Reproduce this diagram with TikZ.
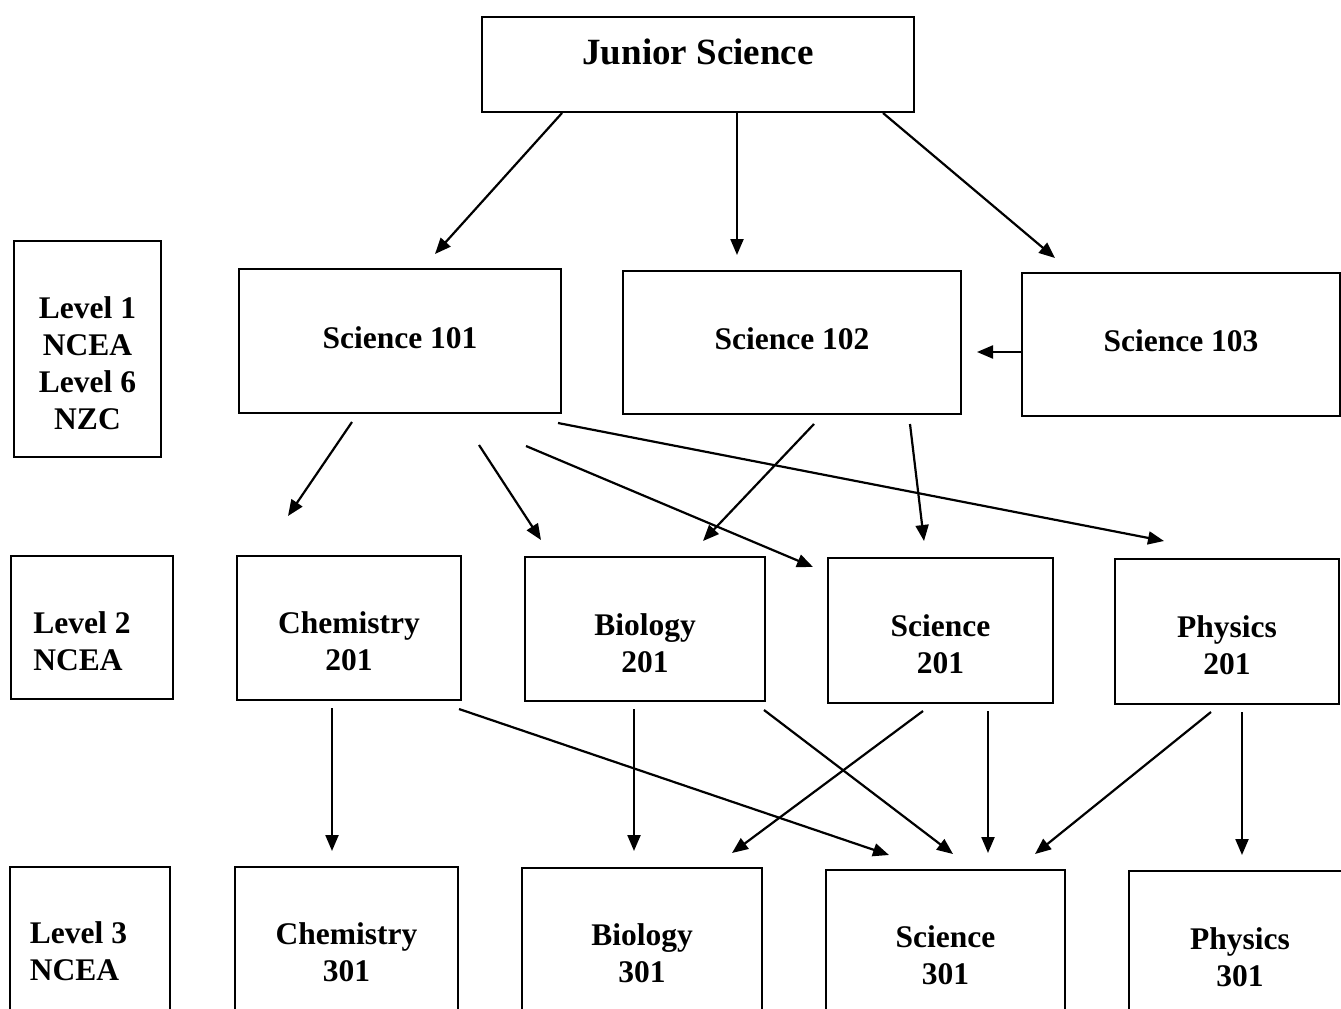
\documentclass[tikz,border=0pt]{standalone}
\usepackage{fontspec}
\setmainfont{Liberation Serif}
\usetikzlibrary{arrows.meta,calc}
\tikzset{
  box/.style={draw=black, line width=2.6pt, rectangle, inner sep=0pt, outer sep=0pt, fill=white},
  txt/.style={font=\bfseries\fontsize{31.5}{37}\selectfont, align=center, inner sep=0pt, text=black},
  txtl/.style={font=\bfseries\fontsize{31.5}{37}\selectfont, align=left, inner sep=0pt, text=black},
  bigtxt/.style={font=\bfseries\fontsize{37}{42}\selectfont, inner sep=0pt, text=black},
  arr/.style={line width=2.2pt, -{Triangle[length=16pt,width=13pt]}}
}
\begin{document}
\begin{tikzpicture}[x=1pt,y=-1pt]
\useasboundingbox (0,0) rectangle (1341,1009);
\fill[white] (0,0) rectangle (1341,1009);
\clip (0,0) rectangle (1341,1009);

% top
\node[box, minimum width=432pt, minimum height=95pt,
  label={[bigtxt,yshift=12.5pt]center:Junior Science}] (js) at (698,64.5) {};

% level 1 row
\node[box, minimum width=147pt, minimum height=216pt,
  label={[txt,yshift=-14pt]center:{Level 1\\NCEA\\Level 6\\NZC}}] (l1) at (87.5,349) {};
\node[box, minimum width=322pt, minimum height=144pt,
  label={[txt,yshift=3pt]center:Science 101}] (s101) at (400,341) {};
\node[box, minimum width=338pt, minimum height=143pt,
  label={[txt,yshift=3.5pt]center:Science 102}] (s102) at (792,342.5) {};
\node[box, minimum width=318pt, minimum height=143pt,
  label={[txt,yshift=3.5pt]center:Science 103}] (s103) at (1181,344.5) {};

% level 2 row
\node[box, minimum width=162pt, minimum height=143pt,
  label={[txtl,xshift=-10pt,yshift=-13.5pt]center:{Level 2\\NCEA}}] (l2) at (92,627.5) {};
\node[box, minimum width=224pt, minimum height=144pt,
  label={[txt,yshift=-13.5pt]center:{Chemistry\\201}}] (c201) at (349,628) {};
\node[box, minimum width=240pt, minimum height=144pt,
  label={[txt,yshift=-14pt]center:{Biology\\201}}] (b201) at (645,629) {};
\node[box, minimum width=225pt, minimum height=145pt,
  label={[txt,yshift=-14pt]center:{Science\\201}}] (sc201) at (940.5,630.5) {};
\node[box, minimum width=224pt, minimum height=145pt,
  label={[txt,yshift=-14pt]center:{Physics\\201}}] (p201) at (1227,631.5) {};

% level 3 row
\node[box, minimum width=160pt, minimum height=144pt,
  label={[txtl,xshift=-11.5pt,yshift=-12.5pt]center:{Level 3\\NCEA}}] (l3) at (90,939) {};
\node[box, minimum width=223pt, minimum height=144pt,
  label={[txt,yshift=-13.5pt]center:{Chemistry\\301}}] (c301) at (346.5,939) {};
\node[box, minimum width=240pt, minimum height=144pt,
  label={[txt,yshift=-13.5pt]center:{Biology\\301}}] (b301) at (642,940) {};
\node[box, minimum width=239pt, minimum height=144pt,
  label={[txt,yshift=-13.5pt]center:{Science\\301}}] (sc301) at (945.5,942) {};
\node[box, minimum width=231pt, minimum height=144pt,
  label={[txt,xshift=-4.5pt,yshift=-14.5pt]center:{Physics\\301}}] (p301) at (1244.5,943) {};

% arrows from Junior Science
\draw[arr] ($(js.south west)+(80,1)$) -- ($(s101.north west)+(196,-15)$);
\draw[arr] ($(js.south west)+(255,1)$) -- ($(s102.north west)+(114,-16)$);
\draw[arr] ($(js.south west)+(401,1)$) -- ($(s103.north west)+(33,-15)$);
% 103 -> 102
\draw[arr] ($(s103.west)+(0,7.5)$) -- ($(s102.east)+(16,9.5)$);
% from Science 101
\draw[arr] ($(s101.south west)+(113,9)$) -- ($(c201.north west)+(51,-40)$);
\draw[arr] ($(s101.south west)+(240,32)$) -- ($(b201.north west)+(16,-17)$);
\draw[arr] ($(s101.south west)+(287,33)$) -- ($(sc201.north west)+(-15,9)$);
\draw[arr] ($(s101.south east)+(-3,10)$) -- ($(p201.north west)+(49,-18)$);
% from Science 102
\draw[arr] ($(s102.south west)+(191,10)$) -- ($(b201.north west)+(178,-16)$);
\draw[arr] ($(s102.south west)+(287,10)$) -- ($(sc201.north west)+(96,-17)$);
% level 2 -> level 3
\draw[arr] ($(c201.south west)+(95,8)$) -- ($(c301.north west)+(97,-16)$);
\draw[arr] ($(c201.south east)+(-2,9)$) -- ($(sc301.north west)+(63,-15)$);
\draw[arr] ($(b201.south west)+(109,8)$) -- ($(b301.north west)+(112,-17)$);
\draw[arr] ($(b201.south east)+(-1,9)$) -- ($(sc301.north west)+(127,-16)$);
\draw[arr] ($(sc201.south west)+(95,8)$) -- ($(b301.north east)+(-30,-15)$);
\draw[arr] ($(sc201.south west)+(160,8)$) -- ($(sc301.north west)+(162,-17)$);
\draw[arr] ($(p201.south west)+(96,8)$) -- ($(sc301.north east)+(-30,-16)$);
\draw[arr] ($(p201.south west)+(127,8)$) -- ($(p301.north west)+(113,-16)$);
\end{tikzpicture}
\end{document}
